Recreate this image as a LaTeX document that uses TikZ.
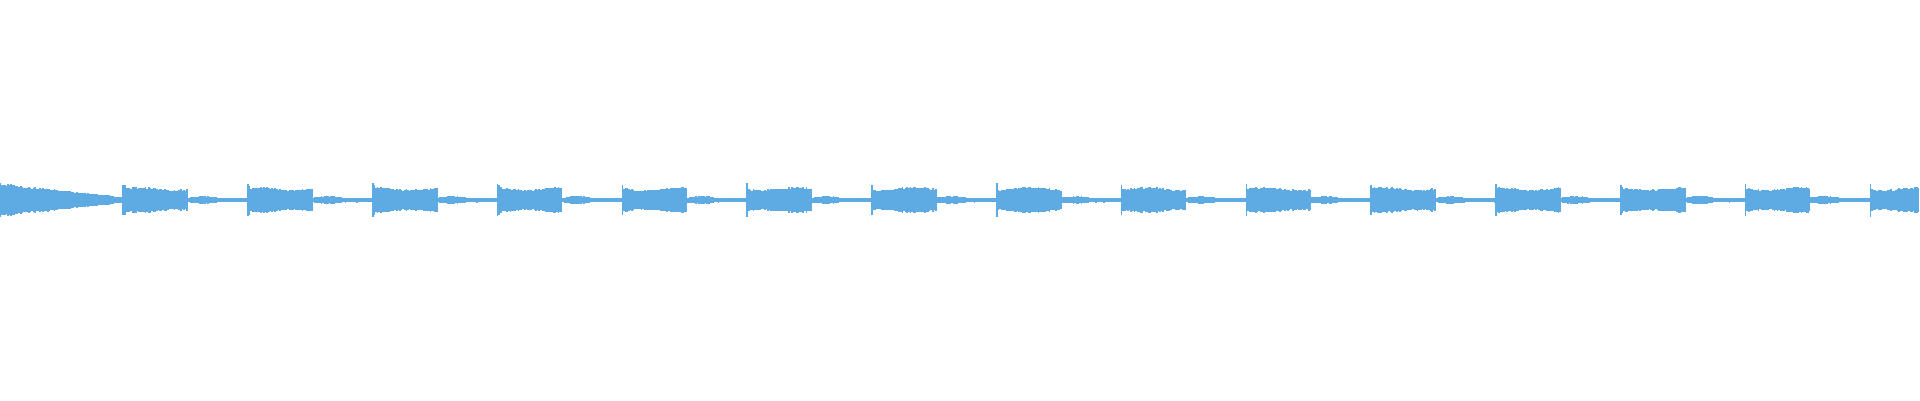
\documentclass[tikz,border=0pt]{standalone}
\definecolor{wave}{RGB}{93,171,226}
\begin{document}
\begin{tikzpicture}[x=0.1mm,y=-0.1mm,wl/.style={draw=wave,line width=0.17mm}]
\useasboundingbox (0,0) rectangle (1920,400);
\pgfmathsetseed{7}
\foreach \x in {0,1.6,...,1919} {
  \pgfmathsetmacro{\t}{\x-123}
  \pgfmathsetmacro{\k}{floor(\t/124.75)}
  \pgfmathsetmacro{\p}{\t-\k*124.75}
  \pgfmathsetmacro{\a}{\x<123 ? (3+14*(1-\x/123)) : (\p<2 ? 17 : (\p<65 ? 12+1.5*sin(\p*5+\k*40) : 2.5+1.5*max(0,sin((\p-65)*6))))}
  \pgfmathsetmacro{\r}{\a*(0.85+0.15*rnd)}
  \draw[wl] (\x,200-\r) -- (\x,200+\r);
}
\end{tikzpicture}
\end{document}
